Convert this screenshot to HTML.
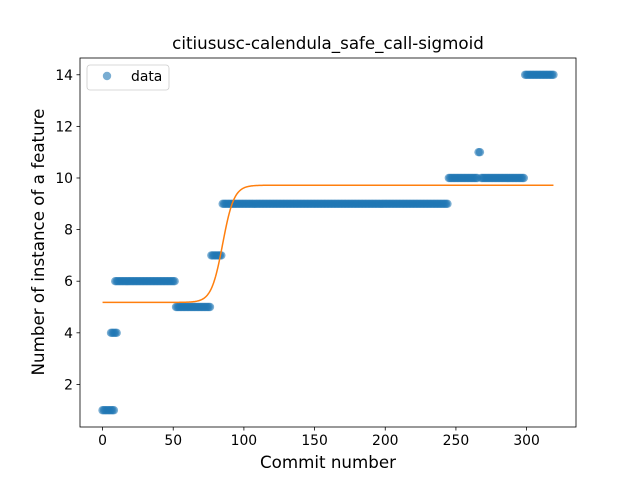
<!DOCTYPE html>
<html><head><meta charset="utf-8"><style>body{margin:0;background:#fff}svg{font-family:"DejaVu Sans","Liberation Sans",sans-serif}</style></head>
<body>
<svg id="chart" width="640" height="480" xmlns="http://www.w3.org/2000/svg"></svg>
<script>
// data segments: [startIndex, endIndex, value]
const segStarts = [0, 6, 9, 52, 77, 85, 245, 266, 268, 299];
const segEnds   = [8, 10, 51, 76, 84, 244, 265, 267, 298, 319];
const segValues = [1, 4, 6, 5, 7, 9, 10, 11, 10, 14];
const sigmoidParams = [5.18, 9.72, 85, 0.25]; // low, high, mid, k
const xTicks = [0, 50, 100, 150, 200, 250, 300];
const yTicks = [2, 4, 6, 8, 10, 12, 14];

const NS = "http://www.w3.org/2000/svg";
const svg = document.getElementById('chart');
const L = 80, R = 576, T = 58, B = 427;
const xMin = -15.95, xMax = 334.95, yMin = 0.35, yMax = 14.65;
const sx = v => L + (v - xMin) / (xMax - xMin) * (R - L);
const sy = v => B - (v - yMin) / (yMax - yMin) * (B - T);
function mk(tag, attrs, parent) {
  const e = document.createElementNS(NS, tag);
  for (const k in attrs) e.setAttribute(k, attrs[k]);
  (parent || svg).appendChild(e);
  return e;
}
const pts = mk('g', {});


for (let s = 0; s < segStarts.length; s++) {
  for (let i = segStarts[s]; i <= segEnds[s]; i++) {
    const c = mk('circle', {cx: sx(i), cy: sy(segValues[s]), r: 4.2, fill: '#1f77b4', 'fill-opacity': 0.6}, pts);
    
    
  }
}
let d = '';
const last = segEnds[segEnds.length - 1];
for (let i = 0; i <= last; i += 0.5) {
  const [lo, hi, mid, k] = sigmoidParams;
  const v = lo + (hi - lo) / (1 + Math.exp(-k * (i - mid)));
  d += (i === 0 ? 'M' : 'L') + sx(i).toFixed(2) + ',' + sy(v).toFixed(2);
}
const line = mk('path', {d: d, fill: 'none', stroke: '#ff7f0e', 'stroke-width': 1.5});


const frame = mk('rect', {x: L, y: T, width: R - L, height: B - T, fill: 'none', stroke: '#000', 'stroke-width': 0.8});


xTicks.forEach(t => {
  mk('line', {x1: sx(t), x2: sx(t), y1: B, y2: B + 3.5, stroke: '#000', 'stroke-width': 0.8});
  const tx = mk('text', {x: sx(t), y: B + 18, 'font-size': 13.9, 'text-anchor': 'middle'});
  tx.textContent = t;
  
  
});
yTicks.forEach(t => {
  mk('line', {x1: L - 3.5, x2: L, y1: sy(t), y2: sy(t), stroke: '#000', 'stroke-width': 0.8});
  const tx = mk('text', {x: L - 7, y: sy(t) + 5, 'font-size': 13.9, 'text-anchor': 'end'});
  tx.textContent = t;
  
  
});
</script>
<svg width="640" height="480" style="position:absolute;left:0;top:0" xmlns="http://www.w3.org/2000/svg">
  <text x="328" y="49" font-size="16.7" text-anchor="middle">citiususc-calendula_safe_call-sigmoid</text>
  <text x="328" y="468" font-size="16.7" text-anchor="middle">Commit number</text>
  <text transform="translate(44,242) rotate(-90)" font-size="16.7" text-anchor="middle">Number of instance of a feature</text>
  <g>
    <rect x="87" y="65" width="82" height="25" rx="3" fill="#fff" fill-opacity="0.8" stroke="#ccc" stroke-width="0.8"/>
    <circle cx="107" cy="76" r="4.2" fill="#1f77b4" fill-opacity="0.6"/>
    <text x="131" y="81" font-size="13.9">data</text>
  </g>
</svg>
</body></html>
